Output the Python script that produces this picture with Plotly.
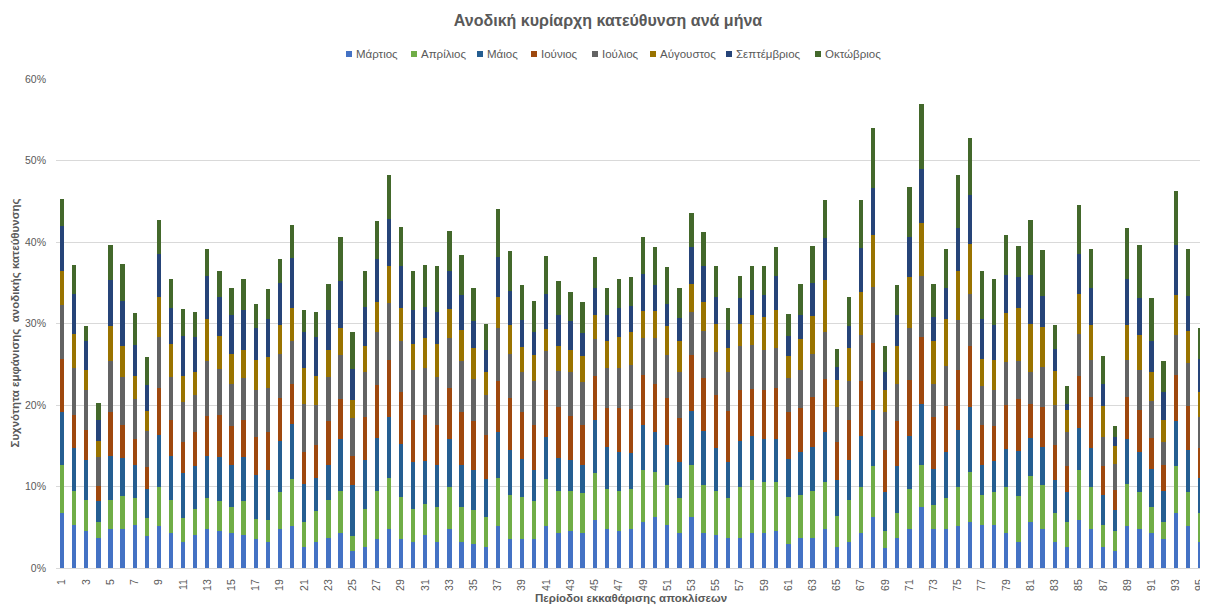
import plotly.graph_objects as go

periods = [str(i) for i in range(1, 96)]
tick_labels = [str(i) for i in range(1, 96, 2)]

months = ["Μάρτιος", "Απρίλιος", "Μάιος", "Ιούνιος", "Ιούλιος", "Αύγουστος", "Σεπτέμβριος", "Οκτώβριος"]

martios = [6.8, 5.3, 4.6, 3.7, 4.8, 4.8, 5.3, 3.9, 5.1, 4.3, 3.2, 4.0,
           4.8, 4.6, 4.3, 4.0, 3.5, 3.2, 4.8, 5.1, 2.6, 3.2, 3.7, 4.3,
           2.1, 2.6, 3.5, 4.8, 3.5, 3.2, 4.0, 3.2, 4.8, 3.2, 2.9,
           2.6, 5.1, 3.5, 3.5, 3.5, 5.1, 4.3, 4.6, 4.3, 5.9, 4.8, 4.6,
           4.8, 5.7, 6.2, 5.3, 4.3, 6.2, 4.3, 4.0, 3.7, 3.7, 4.3,
           4.3, 4.6, 2.9, 3.7, 3.7, 4.8, 2.6, 3.2, 4.3, 6.2, 2.4, 3.7,
           4.8, 7.5, 4.8, 4.8, 5.1, 5.7, 5.3, 5.3, 4.3, 3.2, 5.7, 4.8,
           3.2, 2.6, 5.9, 4.8, 2.6, 2.1, 5.1, 4.8, 4.3, 3.5, 6.8, 5.1, 3.2]
aprilios = [5.9, 4.2, 3.8, 2.0, 3.6, 4.0, 3.3, 2.2, 4.9, 4.0, 2.9, 3.3,
            3.8, 3.6, 3.2, 4.2, 2.5, 2.7, 4.5, 5.8, 3.1, 3.8, 4.7, 5.2,
            1.8, 4.7, 6.0, 6.3, 5.2, 4.0, 3.8, 4.3, 5.2, 4.3, 4.2,
            3.6, 6.0, 5.4, 5.2, 4.7, 5.8, 5.2, 4.9, 4.9, 5.8, 4.9, 4.9,
            4.9, 6.3, 5.6, 4.9, 4.3, 6.5, 5.9, 5.5, 4.9, 6.3, 6.5,
            6.3, 6.0, 5.8, 5.2, 5.8, 5.8, 3.8, 5.2, 5.6, 6.3, 2.2, 3.1,
            4.9, 5.2, 2.9, 3.8, 4.9, 6.1, 3.6, 4.0, 5.6, 5.6, 5.6, 5.4,
            3.6, 3.1, 6.1, 5.2, 2.7, 2.5, 5.2, 4.5, 3.2, 2.2, 5.7, 4.2, 3.6]
maios = [6.4, 5.2, 4.9, 2.5, 5.4, 4.7, 4.1, 3.6, 6.3, 5.4, 5.6, 5.2,
         5.2, 5.4, 5.2, 5.4, 5.4, 6.1, 6.3, 6.8, 4.6, 4.0, 4.3, 6.3,
         6.3, 6.0, 6.5, 7.4, 6.5, 5.8, 5.3, 5.2, 5.8, 5.2, 4.9,
         4.7, 5.6, 5.6, 4.7, 3.8, 5.2, 4.0, 3.8, 3.4, 6.5, 5.2, 4.7,
         4.4, 5.6, 4.9, 4.9, 4.4, 6.6, 6.6, 5.2, 4.4, 5.6, 5.4,
         5.2, 5.2, 4.7, 5.3, 5.4, 6.1, 4.4, 4.9, 6.3, 6.9, 4.7, 5.7,
         6.5, 7.4, 4.5, 5.6, 6.9, 7.9, 3.8, 3.8, 4.7, 5.6, 4.7, 4.7,
         4.0, 3.6, 5.2, 4.7, 3.6, 2.5, 5.5, 4.9, 4.7, 3.8, 5.5, 5.2, 4.3]
iounios = [6.5, 4.1, 3.6, 1.9, 5.3, 4.1, 3.1, 2.7, 5.8, 4.5, 3.8, 4.2,
           4.9, 5.2, 4.7, 4.5, 4.7, 4.7, 5.2, 4.9, 3.9, 4.1, 5.3, 4.9,
           3.5, 5.2, 6.5, 7.0, 6.4, 5.2, 5.7, 4.9, 6.3, 6.4, 6.0,
           5.4, 6.3, 6.3, 5.8, 5.6, 5.8, 6.3, 5.4, 4.9, 5.4, 4.7, 5.4,
           5.4, 6.1, 5.9, 5.8, 5.4, 6.8, 6.5, 6.5, 6.3, 6.3, 5.8,
           6.1, 6.3, 5.8, 5.4, 6.1, 6.5, 4.7, 4.9, 6.7, 8.2, 5.2, 5.5,
           6.9, 8.3, 6.3, 5.7, 7.4, 7.6, 4.9, 4.3, 5.4, 6.3, 4.1, 4.9,
           4.3, 3.2, 6.3, 6.3, 3.6, 2.5, 5.2, 5.2, 3.8, 3.2, 5.7, 5.4, 3.6]
ioulios = [6.7, 5.8, 4.9, 3.5, 6.3, 5.8, 4.9, 4.4, 6.3, 5.2, 4.9, 4.5,
           6.7, 5.6, 5.2, 5.2, 5.8, 5.4, 5.4, 5.3, 5.9, 4.9, 5.4, 5.4,
           4.7, 5.6, 6.4, 7.0, 6.3, 6.1, 5.8, 5.8, 6.1, 6.3, 5.2,
           4.9, 6.5, 5.4, 4.9, 5.3, 4.7, 4.4, 5.3, 5.3, 4.5, 4.9, 4.9,
           5.4, 4.5, 5.6, 5.2, 5.6, 5.3, 5.8, 5.3, 4.7, 5.4, 5.4,
           4.9, 4.9, 4.1, 4.7, 5.2, 5.8, 4.3, 4.7, 5.7, 6.9, 4.7, 4.6,
           6.3, 7.4, 4.1, 4.9, 6.1, 6.3, 4.7, 4.5, 5.3, 4.7, 3.9, 4.9,
           4.9, 4.2, 5.2, 4.5, 3.6, 3.2, 4.5, 4.9, 4.5, 2.8, 4.9, 5.2, 3.8]
avgoustos = [4.2, 4.1, 2.5, 2.0, 4.3, 3.8, 2.9, 2.5, 4.9, 4.1, 3.2, 2.8,
             5.2, 4.1, 3.6, 3.4, 3.6, 3.8, 3.6, 4.0, 4.4, 3.6, 3.4, 3.3,
             2.2, 3.2, 3.8, 4.5, 4.0, 3.2, 3.6, 4.1, 3.6, 3.8, 3.8,
             2.8, 3.8, 3.6, 3.0, 3.2, 2.7, 3.0, 2.7, 3.2, 3.0, 3.4, 3.8,
             4.0, 3.3, 3.3, 3.6, 3.8, 3.5, 3.6, 3.4, 3.0, 2.7, 3.6,
             4.0, 4.7, 2.7, 3.8, 4.7, 6.3, 3.3, 4.1, 5.3, 6.3, 2.7, 4.7,
             6.3, 6.5, 5.3, 5.8, 6.1, 6.1, 3.4, 3.6, 6.0, 6.5, 5.9, 4.9,
             4.2, 2.7, 4.9, 4.3, 3.8, 2.2, 4.3, 4.3, 3.6, 2.7, 4.9, 4.0, 3.1]
septemvrios = [5.5, 4.9, 3.6, 2.5, 5.6, 5.6, 3.8, 3.2, 5.2, 4.4, 4.9, 4.3,
               5.2, 4.7, 4.9, 4.9, 4.0, 4.7, 5.2, 6.1, 4.5, 4.7, 4.9, 5.8,
               3.8, 4.7, 5.2, 5.8, 5.2, 4.2, 3.8, 3.9, 4.7, 4.3, 3.3,
               2.7, 4.9, 4.2, 3.3, 2.8, 4.3, 3.8, 3.6, 2.8, 3.3, 3.2, 3.6,
               3.2, 4.6, 3.2, 2.7, 2.9, 4.5, 4.3, 3.4, 2.2, 3.1, 3.1,
               2.7, 4.1, 2.5, 2.9, 4.1, 5.2, 1.6, 2.7, 5.4, 5.8, 2.2, 3.8,
               4.9, 6.7, 2.9, 3.8, 5.2, 6.1, 4.9, 4.3, 4.6, 3.8, 6.1, 3.8,
               2.7, 0.7, 4.9, 4.5, 2.7, 1.1, 5.6, 4.5, 3.8, 3.4, 6.1, 4.3, 4.1]
oktovrios = [3.3, 3.6, 1.8, 2.1, 4.3, 4.5, 3.9, 3.4, 4.2, 3.6, 3.3, 3.1,
             3.4, 3.3, 3.3, 3.8, 2.9, 3.6, 2.9, 4.1, 2.7, 3.1, 3.2, 5.4,
             4.5, 4.5, 4.7, 5.4, 4.7, 4.7, 5.2, 5.7, 4.9, 4.9, 4.1,
             3.2, 5.8, 4.9, 4.3, 3.8, 4.7, 4.2, 3.6, 3.8, 3.8, 3.3, 3.6,
             3.6, 4.5, 4.7, 4.5, 3.6, 4.1, 4.2, 3.8, 2.7, 2.7, 2.9,
             3.6, 3.6, 2.7, 3.8, 4.5, 4.7, 2.2, 3.6, 5.8, 7.4, 3.2, 3.6,
             6.1, 7.9, 4.1, 4.7, 6.5, 6.9, 5.8, 5.6, 4.9, 3.8, 6.7, 5.6,
             2.9, 2.2, 6.1, 4.9, 3.4, 1.3, 6.3, 6.5, 5.2, 3.8, 6.7, 5.8, 3.8]

series = [martios, aprilios, maios, iounios, ioulios, avgoustos, septemvrios, oktovrios]
colors = ["#4472C4", "#70AD47", "#255E91", "#9E480E", "#636363", "#997300", "#264478", "#43682B"]

# Figure is drawn 8px in from the page edge (default body margin), so size it 1200x600.
W, H = 1200, 600
ML, MR, MT, MB = 48, 2, 71, 40
PW, PH = W - ML - MR, H - MT - MB

def px_x(sx):  # screen x -> paper x
    return (sx - 8 - ML) / PW

def px_y(sy):  # screen y -> paper y
    return (H - MB - (sy - 8)) / PH

fig = go.Figure()
for name, vals, col in zip(months, series, colors):
    fig.add_trace(go.Bar(x=periods, y=vals, name=name, marker=dict(color=col, line=dict(width=0)),
                         showlegend=False))

FONT = "Liberation Sans"
GREY = "#595959"

# Compact legend like the original (small square + label)
legend_square_x = [346, 411, 477, 531, 592, 650, 726, 815]
shapes = []
annotations = []
for name, col, sx in zip(months, colors, legend_square_x):
    shapes.append(dict(type="rect", xref="paper", yref="paper",
                       x0=px_x(sx), x1=px_x(sx + 6), y0=px_y(57), y1=px_y(51),
                       fillcolor=col, line=dict(width=0)))
    annotations.append(dict(text=name, xref="paper", yref="paper", x=px_x(sx + 8), y=px_y(53.5),
                            xanchor="left", yanchor="middle", showarrow=False,
                            font=dict(size=11.5, color=GREY, family=FONT)))

annotations.append(dict(text="<b>Συχνότητα εμφάνισης  ανοδικής κατεύθυνσης</b>", xref="paper", yref="paper",
                        x=px_x(15), y=0.5, xanchor="center", yanchor="middle", textangle=-90,
                        showarrow=False, font=dict(size=11.5, color=GREY, family=FONT)))
annotations.append(dict(text="<b>Περίοδοι εκκαθάρισης αποκλίσεων</b>", xref="paper", yref="paper",
                        x=0.5, y=px_y(607), xanchor="center", yanchor="bottom", showarrow=False,
                        font=dict(size=11.5, color=GREY, family=FONT)))

fig.update_layout(
    barmode="stack",
    bargap=0.64,
    width=W, height=H,
    margin=dict(l=ML, r=MR, t=MT, b=MB),
    paper_bgcolor="white", plot_bgcolor="white",
    font=dict(family=FONT, size=11, color=GREY),
    title=dict(text="<b>Ανοδική κυρίαρχη κατεύθυνση ανά μήνα</b>", x=0.5, xanchor="center",
               y=1 - 12 / H, yanchor="middle", font=dict(size=16, color=GREY, family=FONT)),
    showlegend=False,
    xaxis=dict(type="category", tickmode="array", tickvals=tick_labels, ticktext=tick_labels,
               tickangle=-90, tickfont=dict(size=10.5, color=GREY), showgrid=False,
               showline=True, linecolor="#D9D9D9", ticks="", ticklabelstandoff=6, automargin=False),
    yaxis=dict(range=[0, 60], dtick=10, ticksuffix="%", tickfont=dict(size=10.5, color=GREY),
               gridcolor="#D9D9D9", gridwidth=1, zeroline=False, showline=False, ticks="",
               ticklabelstandoff=9, automargin=False),
    shapes=shapes,
    annotations=annotations,
)

fig.write_html("out.html")
